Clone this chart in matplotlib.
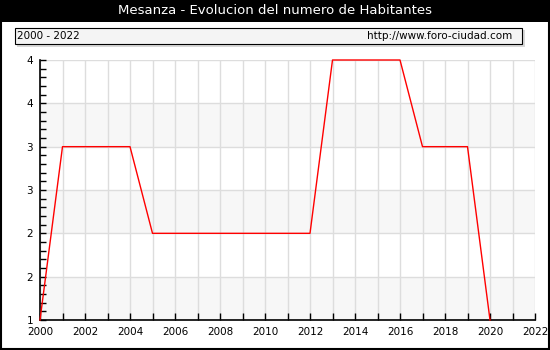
import matplotlib
matplotlib.use("Agg")
import matplotlib.pyplot as plt
from matplotlib.patches import Rectangle
from matplotlib.ticker import MultipleLocator, FixedLocator

years = [2000, 2001, 2002, 2003, 2004, 2005, 2006, 2007, 2008, 2009, 2010,
         2011, 2012, 2013, 2014, 2015, 2016, 2017, 2018, 2019, 2020]
habitantes = [1, 3, 3, 3, 3, 2, 2, 2, 2, 2, 2,
              2, 2, 4, 4, 4, 4, 3, 3, 3, 1]
y_ticks = [1, 1.5, 2, 2.5, 3, 3.5, 4]
y_labels = ['1', '2', '2', '3', '3', '4', '4']
x_labels = list(range(2000, 2023, 2))

fig = plt.figure(figsize=(5.5, 3.5), dpi=100)
fig.patch.set_facecolor('white')

# marco exterior y barra de titulo
fig.add_artist(Rectangle((0.001, 0.003), 0.997, 0.995, transform=fig.transFigure,
                         fill=False, edgecolor='black', lw=1.5))
fig.add_artist(Rectangle((0, 1 - 22 / 350), 1, 22 / 350, transform=fig.transFigure,
                         facecolor='black', edgecolor='none'))
fig.text(0.5, 1 - 11 / 350, 'Mesanza - Evolucion del numero de Habitantes',
         color='white', ha='center', va='center', fontsize=9.5)

# caja de leyenda con sombra
fig.add_artist(Rectangle((17 / 550, 1 - 47 / 350), 508 / 550, 17 / 350,
                         transform=fig.transFigure, facecolor='#d8d8d8', edgecolor='none'))
fig.add_artist(Rectangle((15 / 550, 1 - 44 / 350), 507 / 550, 16 / 350,
                         transform=fig.transFigure, facecolor='#f4f4f4',
                         edgecolor='black', lw=0.8))
fig.text(17 / 550, 1 - 36 / 350, '2000 - 2022', ha='left', va='center', fontsize=7.5)
fig.text(512 / 550, 1 - 36 / 350, 'http://www.foro-ciudad.com', ha='right',
         va='center', fontsize=7.5)

ax = fig.add_axes([40 / 550, 30 / 350, 495 / 550, 260 / 350])
ax.set_xlim(2000, 2022)
ax.set_ylim(1, 4)

# bandas alternas
for i in range(len(y_ticks) - 1):
    if i % 2 == 0:
        ax.axhspan(y_ticks[i], y_ticks[i + 1], color='#f7f7f7', zorder=0, lw=0)

ax.xaxis.set_major_locator(FixedLocator(x_labels))
ax.xaxis.set_minor_locator(MultipleLocator(1))
ax.yaxis.set_major_locator(FixedLocator(y_ticks))
ax.set_yticklabels(y_labels)
ax.yaxis.set_minor_locator(MultipleLocator(0.1))
ax.grid(True, which='major', axis='y', color='#dddddd', lw=1, zorder=1)
ax.grid(True, which='both', axis='x', color='#dddddd', lw=1, zorder=1)

ax.plot(years, habitantes, color='red', lw=1, zorder=3, clip_on=False)

for side in ['top', 'right']:
    ax.spines[side].set_visible(False)
ax.spines['left'].set_linewidth(1.2)
ax.spines['bottom'].set_linewidth(1.2)
ax.tick_params(axis='both', which='both', direction='in', labelsize=7.5,
               color='black', width=1)
ax.tick_params(axis='x', which='both', length=5, pad=5)
ax.tick_params(axis='y', which='both', length=4, pad=5)

fig.savefig('out.png', dpi=100)
